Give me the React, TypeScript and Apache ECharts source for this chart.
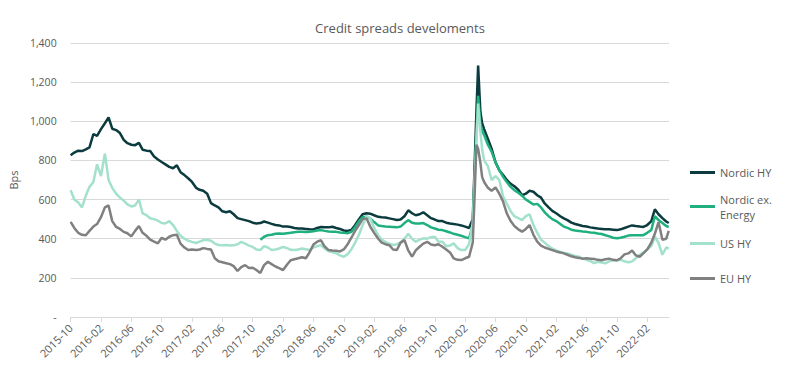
import React, { useEffect, useRef } from 'react';
import * as echarts from 'echarts';

const title = 'Credit spreads develoments';
const seriesNames = ['Nordic HY', 'Nordic ex. Energy', 'US HY', 'EU HY'];
const seriesColors = ['#0b3b3f', '#1fb07e', '#a3e1cd', '#808080'];

const xTickLabels = [
  '2015-10', '2016-02', '2016-06', '2016-10', '2017-02', '2017-06', '2017-10',
  '2018-02', '2018-06', '2018-10', '2019-02', '2019-06', '2019-10', '2020-02',
  '2020-06', '2020-10', '2021-02', '2021-06', '2021-10', '2022-02',
];

const dates = [
  '2015-10-01', '2015-10-16', '2015-11-01', '2015-11-16', '2015-12-01', '2015-12-16',
  '2016-01-01', '2016-01-16', '2016-02-01', '2016-02-16', '2016-03-01', '2016-03-16',
  '2016-04-01', '2016-04-16', '2016-05-01', '2016-05-16', '2016-06-01', '2016-06-16',
  '2016-07-01', '2016-07-16', '2016-08-01', '2016-08-16', '2016-09-01', '2016-09-16',
  '2016-10-01', '2016-10-16', '2016-11-01', '2016-11-16', '2016-12-01', '2016-12-16',
  '2017-01-01', '2017-01-16', '2017-02-01', '2017-02-16', '2017-03-01', '2017-03-16',
  '2017-04-01', '2017-04-16', '2017-05-01', '2017-05-16', '2017-06-01', '2017-06-16',
  '2017-07-01', '2017-07-16', '2017-08-01', '2017-08-16', '2017-09-01', '2017-09-16',
  '2017-10-01', '2017-10-16', '2017-11-01', '2017-11-16', '2017-12-01', '2017-12-16',
  '2018-01-01', '2018-01-16', '2018-02-01', '2018-02-16', '2018-03-01', '2018-03-16',
  '2018-04-01', '2018-04-16', '2018-05-01', '2018-05-16', '2018-06-01', '2018-06-16',
  '2018-07-01', '2018-07-16', '2018-08-01', '2018-08-16', '2018-09-01', '2018-09-16',
  '2018-10-01', '2018-10-16', '2018-11-01', '2018-11-16', '2018-12-01', '2018-12-16',
  '2019-01-01', '2019-01-16', '2019-02-01', '2019-02-16', '2019-03-01', '2019-03-16',
  '2019-04-01', '2019-04-16', '2019-05-01', '2019-05-16', '2019-06-01', '2019-06-16',
  '2019-07-01', '2019-07-16', '2019-08-01', '2019-08-16', '2019-09-01', '2019-09-16',
  '2019-10-01', '2019-10-16', '2019-11-01', '2019-11-16', '2019-12-01', '2019-12-16',
  '2020-01-01', '2020-01-16', '2020-02-01', '2020-02-16', '2020-03-01', '2020-03-08',
  '2020-03-16', '2020-03-23', '2020-04-01', '2020-04-08', '2020-04-16', '2020-05-01',
  '2020-05-16', '2020-06-01', '2020-06-16', '2020-07-01', '2020-07-16', '2020-08-01',
  '2020-08-16', '2020-09-01', '2020-09-16', '2020-10-01', '2020-10-16', '2020-11-01',
  '2020-11-16', '2020-12-01', '2020-12-16',
  '2021-01-01', '2021-01-16', '2021-02-01', '2021-02-16', '2021-03-01', '2021-03-16',
  '2021-04-01', '2021-04-16', '2021-05-01', '2021-05-16', '2021-06-01', '2021-06-16',
  '2021-07-01', '2021-07-16', '2021-08-01', '2021-08-16', '2021-09-01', '2021-09-16',
  '2021-10-01', '2021-10-16', '2021-11-01', '2021-11-16', '2021-12-01', '2021-12-16',
  '2022-01-01', '2022-01-16', '2022-02-01', '2022-02-16', '2022-03-01', '2022-03-16',
  '2022-04-01', '2022-04-16', '2022-04-26',
];

const nordicHY = [
  826, 840, 850, 848, 857, 867,
  935, 925, 960, 990, 1020, 962, 955, 940, 905, 888, 880, 878, 890, 855, 850, 848, 820, 805, 792, 780, 767, 760, 775, 740,
  725, 709, 690, 660, 650, 645, 630, 582, 570, 560, 540, 535, 540, 525, 505, 500, 495, 490, 482, 478, 480, 488, 482, 476,
  470, 468, 462, 462, 460, 455, 452, 452, 450, 448, 447, 455, 460, 458, 458, 461, 455, 450, 442, 440, 445, 470, 500, 525,
  530, 528, 520, 512, 510, 508, 504, 500, 496, 498, 515, 545, 530, 520, 525, 535, 520, 505, 498, 490, 490, 482, 478, 475,
  472, 468, 462, 455, 500, 750, 1050, 1285, 1050, 990, 960, 910, 860, 790, 750, 725, 700, 680, 668, 650, 622, 630, 645, 640, 622, 610, 580,
  560, 542, 530, 515, 504, 495, 482, 475, 470, 465, 462, 458, 455, 452, 450, 448, 448, 446, 444, 448, 455, 462, 468, 465,
  462, 460, 470, 490, 550, 525, 505, 488, 480,
];

const nordicExEnergy = [
  null, null, null, null, null, null,
  null, null, null, null, null, null, null, null, null, null, null, null, null, null, null, null, null, null, null, null, null, null, null, null,
  null, null, null, null, null, null, null, null, null, null, null, null, null, null, null, null, null, null, null, null, 395, 410, 418, 420,
  425, 427, 425, 428, 430, 433, 435, 435, 434, 436, 438, 442, 444, 440, 437, 435, 435, 432, 430, 428, 435, 460, 490, 510,
  512, 504, 485, 468, 465, 462, 461, 460, 458, 462, 480, 495, 482, 478, 478, 480, 470, 458, 452, 446, 444, 438, 432, 425,
  420, 415, 408, 402, 470, 700, 950, 1130, 990, 950, 930, 880, 845, 790, 750, 716, 690, 665, 648, 635, 620, 600, 588, 575, 578, 560, 535,
  515, 500, 490, 475, 462, 455, 446, 442, 440, 437, 435, 432, 430, 427, 424, 418, 412, 405, 402, 405, 410, 416, 418, 418,
  418, 418, 430, 445, 515, 495, 480, 465, 460,
];

const usHY = [
  648, 600, 585, 560, 620, 665,
  690, 780, 720, 835, 700, 660, 630, 610, 595, 575, 565, 570, 600, 530, 520, 505, 500, 492, 480, 478, 490, 470, 440, 415,
  400, 390, 384, 378, 385, 392, 395, 390, 375, 368, 366, 368, 365, 366, 372, 384, 375, 365, 358, 345, 342, 362, 355, 342,
  345, 350, 358, 352, 343, 342, 345, 350, 346, 342, 355, 362, 367, 350, 336, 332, 325, 315, 308, 320, 345, 380, 420, 470,
  515, 505, 455, 418, 395, 384, 375, 368, 372, 380, 400, 425, 400, 385, 395, 402, 400, 408, 410, 385, 384, 362, 365, 376,
  352, 342, 342, 372, 480, 680, 900, 1090, 950, 860, 800, 770, 700, 720, 700, 615, 580, 540, 515, 505, 495, 515, 525, 470, 430, 395, 380,
  362, 350, 340, 332, 328, 325, 318, 312, 308, 300, 292, 285, 275, 282, 278, 274, 285, 290, 288, 292, 285, 280, 284, 300,
  318, 330, 345, 362, 410, 378, 318, 355, 350,
];

const euHY = [
  486, 455, 430, 420, 418, 440,
  462, 475, 510, 560, 570, 490, 460, 450, 435, 428, 412, 440, 465, 430, 415, 395, 385, 376, 405, 395, 410, 418, 420, 375,
  355, 342, 345, 342, 345, 352, 348, 345, 300, 285, 280, 275, 270, 260, 235, 255, 265, 250, 252, 240, 225, 265, 282, 270,
  258, 250, 240, 268, 290, 295, 300, 305, 300, 330, 370, 385, 392, 360, 342, 340, 338, 335, 345, 370, 405, 440, 470, 500,
  504, 462, 430, 400, 380, 372, 367, 345, 342, 380, 393, 340, 308, 340, 359, 375, 384, 370, 367, 372, 359, 345, 330, 300,
  292, 291, 300, 308, 380, 600, 880, 860, 790, 716, 690, 660, 645, 662, 630, 590, 530, 490, 465, 448, 436, 450, 470, 420, 385, 365, 355,
  348, 342, 335, 330, 325, 318, 310, 305, 302, 298, 300, 298, 296, 292, 290, 295, 298, 292, 290, 300, 320, 325, 340, 315,
  308, 325, 345, 380, 425, 485, 395, 400, 440,
];

const seriesValues = [nordicHY, nordicExEnergy, usHY, euHY];

function monthOffset(d: string): number {
  const parts = d.split('-').map(Number);
  const y = parts[0];
  const m = parts[1];
  const day = parts[2] || 1;
  const dim = new Date(y, m, 0).getDate();
  return (y - 2015) * 12 + (m - 10) + (day - 1) / dim;
}

function name2pad(n: string) {
  return n === 'Nordic ex. Energy' ? [15, 0, 0, 0] : [0, 0, 0, 0];
}

export default function App() {
  const ref = useRef<HTMLDivElement>(null);
  useEffect(() => {
    if (!ref.current) return;
    const chart = echarts.init(ref.current, undefined, { renderer: 'svg' });
    const tickPos = xTickLabels.map((l) => monthOffset(l + '-01'));
    const labelFor = (v: number) => {
      for (let i = 0; i < tickPos.length; i++) {
        if (Math.abs(tickPos[i] - v) < 0.01) return xTickLabels[i];
      }
      return '';
    };
    const font = 'Open Sans';
    const textColor = '#595959';
    const legendTops = [165, 184, 236, 271];
    chart.setOption({
      animation: false,
      textStyle: { fontFamily: font },
      title: {
        text: title,
        left: 'center',
        top: 16,
        textStyle: { fontSize: 13, fontWeight: 'normal', color: textColor, fontFamily: font },
      },
      legend: seriesNames.map((n, i) => ({
        data: [n],
        orient: 'vertical',
        left: 690,
        top: legendTops[i],
        padding: 0,
        icon: 'rect',
        itemWidth: 25,
        itemHeight: 3,
        selectedMode: false,
        formatter: (name: string) => (name === 'Nordic ex. Energy' ? 'Nordic ex.\nEnergy' : name),
        textStyle: {
          color: textColor,
          fontSize: 11,
          fontFamily: font,
          lineHeight: 15,
          padding: name2pad(n),
        },
      })),
      grid: { left: 50, right: 131, top: 43, bottom: 75, containLabel: false },
      xAxis: {
        type: 'value',
        min: 0,
        max: monthOffset('2022-04-27'),
        axisLine: { show: true, lineStyle: { color: '#d9d9d9', width: 1 } },
        axisTick: { show: true, customValues: tickPos, length: 5, lineStyle: { color: '#d9d9d9' } },
        axisLabel: {
          customValues: tickPos,
          formatter: (v: number) => labelFor(v),
          rotate: 45,
          color: textColor,
          fontSize: 11,
          fontFamily: font,
          margin: 9,
        },
        splitLine: { show: false },
      },
      yAxis: {
        type: 'value',
        min: 0,
        max: 1400,
        interval: 200,
        name: 'Bps',
        nameLocation: 'middle',
        nameGap: 38,
        nameTextStyle: { color: textColor, fontSize: 11, fontFamily: font },
        axisLine: { show: false },
        axisTick: { show: false },
        axisLabel: {
          color: textColor,
          fontSize: 10.5,
          fontFamily: font,
          margin: 14,
          formatter: (v: number) => (v === 0 ? '-' : v.toLocaleString('en-US')),
        },
        splitLine: { show: true, lineStyle: { color: '#d9d9d9', width: 1 } },
      },
      series: seriesNames.map((n, i) => ({
        name: n,
        type: 'line',
        showSymbol: false,
        symbol: 'none',
        connectNulls: false,
        color: seriesColors[i],
        lineStyle: { width: 2.5, color: seriesColors[i] },
        z: 2 + i,
        data: dates.map((d, k) => [monthOffset(d), seriesValues[i][k] == null ? '-' : seriesValues[i][k]]),
      })),
    });
    return () => chart.dispose();
  }, []);
  return (
    <div
      ref={ref}
      style={{ position: 'absolute', left: 0, top: 0, width: 800, height: 392 }}
    />
  );
}
